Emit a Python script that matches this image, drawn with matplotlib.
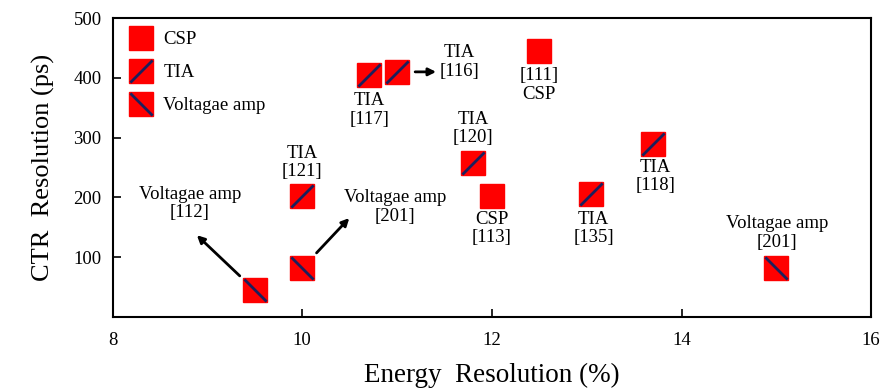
import matplotlib.pyplot as plt
from matplotlib.lines import Line2D
from matplotlib.path import Path

energy = [12.5, 12.0, 10.7, 11.0, 10.0, 11.8, 13.05, 13.7, 9.5, 10.0, 15.0]
ctr = [445, 202, 405, 410, 202, 257, 205, 290, 45, 82, 82]
kind = ["CSP", "CSP", "TIA", "TIA", "TIA", "TIA", "TIA", "TIA", "VA", "VA", "VA"]
refs = ["111", "113", "117", "116", "121", "120", "135", "118", "112", "201", "201"]
names = {"CSP": "CSP", "TIA": "TIA", "VA": "Voltagae amp"}

RED = "#ff0000"
NAVY = "#1c1f5c"
MS = 17

up = Path([(-1, -1), (1, 1)], [Path.MOVETO, Path.LINETO])
down = Path([(-1, 1), (1, -1)], [Path.MOVETO, Path.LINETO])
slash = {"CSP": None, "TIA": up, "VA": down}

# label offsets in pixels (text centre relative to marker), and arrow heads
label_off = [(0, -34), (0, -32), (1, -35), (62, 10), (0, 34), (0, 35),
             (2, -34), (2, -33), (-65, 87), (93, 61), (1, 35)]
arrow_off = {3: (39, 0), 8: (-58, 55), 9: (47, 50)}

plt.rcParams["font.family"] = ["Liberation Serif", "DejaVu Serif"]

fig = plt.figure(figsize=(8.8, 3.92), dpi=100)
ax = fig.add_axes([0.128, 0.191, 0.862, 0.763])

for i in range(len(energy)):
    ax.plot(energy[i], ctr[i], marker="s", ms=MS, color=RED, mec=RED,
            ls="none", zorder=3)
    if slash[kind[i]] is not None:
        ax.plot(energy[i], ctr[i], marker=slash[kind[i]], ms=MS - 1,
                mec=NAVY, mew=2, ls="none", zorder=4)
    if i == 0:
        txt = "[%s]\n%s" % (refs[i], names[kind[i]])
    else:
        txt = "%s\n[%s]" % (names[kind[i]], refs[i])
    ax.annotate(txt, (energy[i], ctr[i]), xytext=label_off[i],
                textcoords="offset pixels", ha="center", va="center",
                fontsize=13.5, linespacing=1.1)
    if i in arrow_off:
        shrink = 13 if i == 3 else 15
        ax.annotate("", (energy[i], ctr[i]), xytext=arrow_off[i],
                    textcoords="offset pixels",
                    arrowprops=dict(arrowstyle="<|-", color="black", lw=2,
                                    mutation_scale=11, shrinkA=0,
                                    shrinkB=shrink))

ax.set_xlim(8, 16)
ax.set_ylim(0, 500)
ax.set_xticks([8, 10, 12, 14, 16])
ax.set_yticks([100, 200, 300, 400, 500])
ax.tick_params(direction="in", length=6, width=1.2, labelsize=13.5)
ax.tick_params(axis="x", pad=11)
ax.tick_params(axis="y", pad=8)
for s in ax.spines.values():
    s.set_linewidth(1.5)

ax.set_xlabel("Energy  Resolution (%)", fontsize=19.5, labelpad=10)
ax.set_ylabel("CTR  Resolution (ps)", fontsize=19, labelpad=13)

handles = []
for k in ["CSP", "TIA", "VA"]:
    sq = Line2D([], [], marker="s", ms=MS, color=RED, mec=RED, ls="none")
    if slash[k] is None:
        handles.append(sq)
    else:
        ln = Line2D([], [], marker=slash[k], ms=MS - 1, mec=NAVY, mew=2,
                    ls="none")
        handles.append((sq, ln))
ax.legend(handles, [names[k] for k in ["CSP", "TIA", "VA"]], loc="upper left",
          frameon=False, fontsize=13.5, handletextpad=0.4, labelspacing=0.85,
          borderaxespad=0.3, handlelength=1.6)

fig.savefig("out.png", dpi=100)
